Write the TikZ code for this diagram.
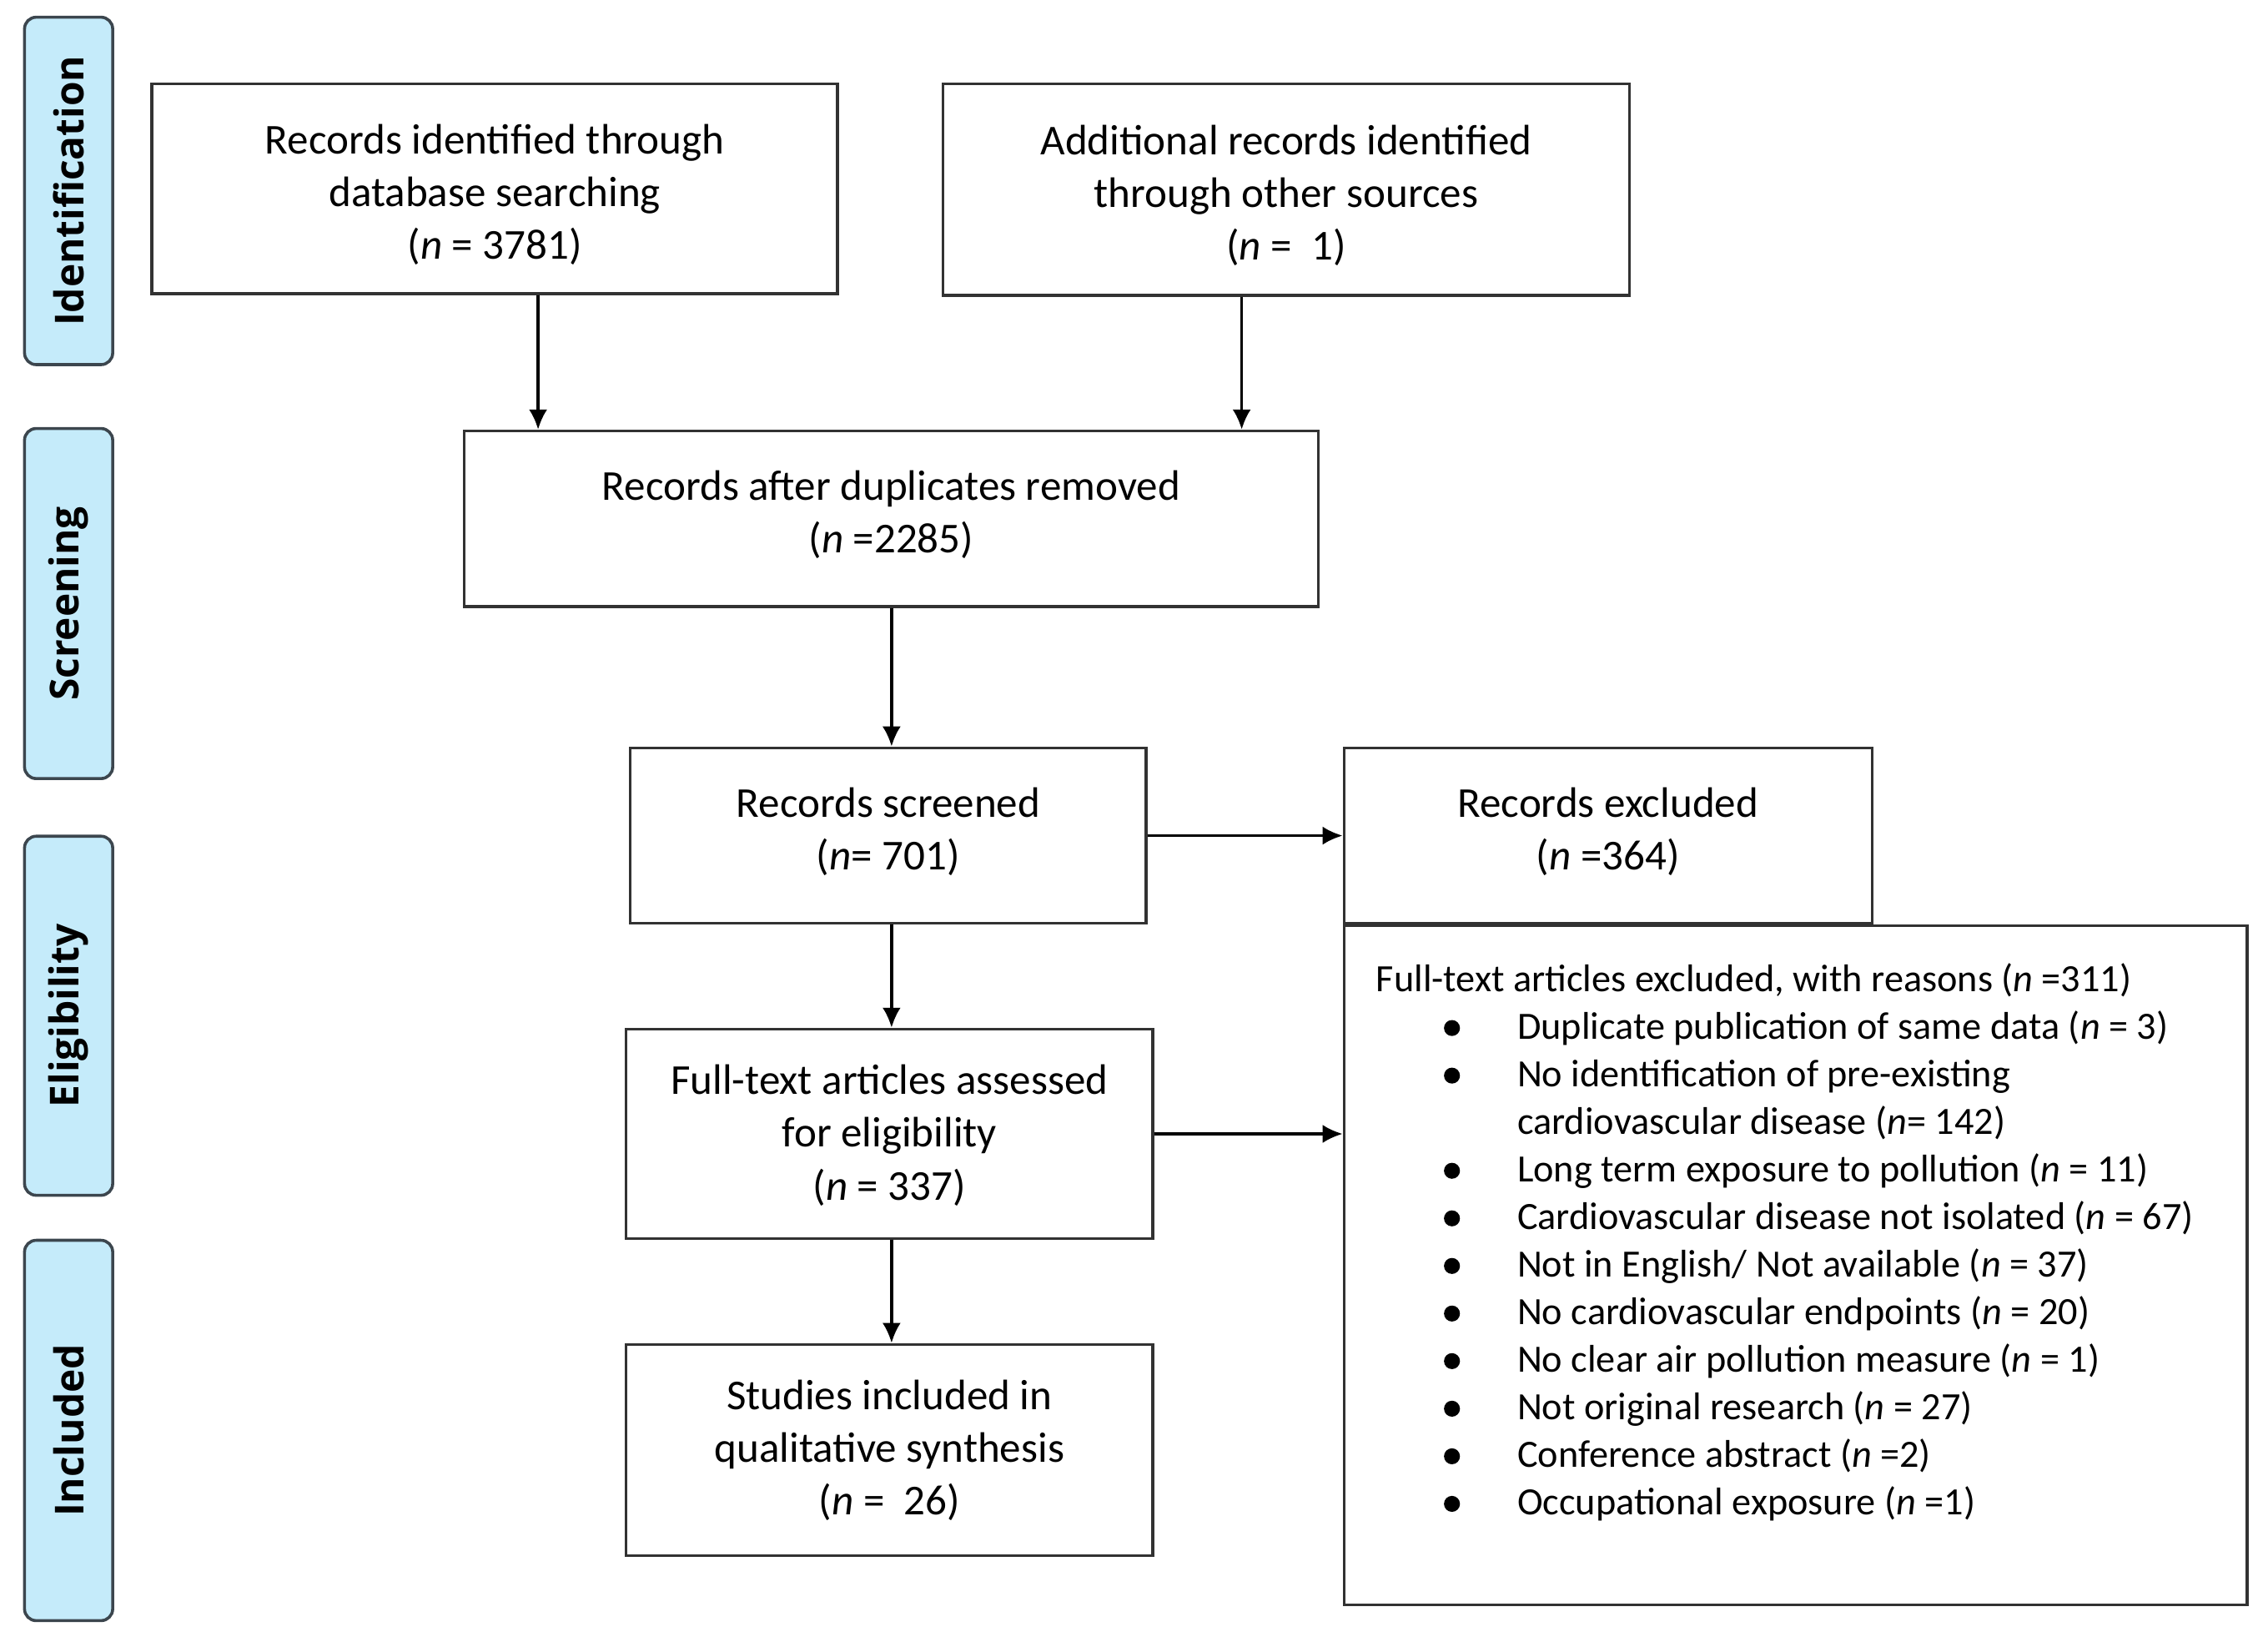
\documentclass[tikz,border=0pt]{standalone}
\usepackage{fontspec}
\setmainfont{Carlito}
\newfontfamily\tabfont{Open Sans}
\usetikzlibrary{arrows.meta}
\definecolor{tabfill}{RGB}{197,235,250}
\definecolor{tabline}{RGB}{60,70,78}
\definecolor{boxline}{RGB}{50,50,50}
\newcommand{\bigdot}{\tikz[baseline=0pt]\fill[black] (0pt,3.3pt) circle[radius=2.4pt];}
\newcommand{\bitem}[1]{\makebox[42.4pt][l]{\hspace*{22.75pt}\makebox[0pt][c]{\bigdot}}#1}
\begin{document}
\begin{tikzpicture}[x=0.25pt,y=-0.25pt,
  stage/.style={draw=tabline,line width=0.9pt,fill=tabfill,rounded corners=3.5pt,
    minimum width=26.5pt,inner sep=0pt},
  stagetext/.style={font=\tabfont\bfseries\fontsize{12}{14}\selectfont,rotate=90,inner sep=0pt},
  box/.style={draw=boxline,line width=0.85pt,fill=white,inner sep=0pt},
  boxtext/.style={inner sep=0pt,align=center,font=\fontsize{12.8}{15.8}\selectfont},
  arr/.style={line width=0.85pt,-{Latex[length=6pt,width=5.5pt]}}]
\useasboundingbox (0,0) rectangle (2727,1979);
% stage tabs
\node[stage,minimum height=104.4pt] (t1) at (82.5,229.5) {};
\node[stagetext] (t1t) at (t1.center) {Identification};
\node[stage,minimum height=105.2pt] (t2) at (82.5,725.5) {};
\node[stagetext] (t2t) at (t2.center) {Screening};
\node[stage,minimum height=107.9pt] (t3) at (82.5,1221) {};
\node[stagetext] (t3t) at (t3.center) {Eligibility};
\node[stage,minimum height=114.3pt] (t4) at (82.5,1719.5) {};
\node[stagetext] (t4t) at (t4.center) {Included};
% boxes
\node[box,minimum width=206.1pt,minimum height=63pt] (b1) at (594.9,227) {};
\node[boxtext] (b1t) at ([yshift=-1.8pt]b1.center)
  {Records identified through\\database searching\\(\textit{n} = 3781)};
\node[box,minimum width=206.25pt,minimum height=63.5pt] (b2) at (1546.5,228) {};
\node[boxtext] (b2t) at ([yshift=-1.8pt]b2.center)
  {Additional records identified\\through other sources\\(\textit{n} =\ \ 1)};
\node[box,minimum width=256.75pt,minimum height=52.75pt] (b3) at (1071.5,623.5) {};
\node[boxtext] (b3t) at ([yshift=1.1pt]b3.center)
  {Records after duplicates removed\\(\textit{n} =2285)};
\node[box,minimum width=155pt,minimum height=52.75pt] (b4) at (1068,1004.5) {};
\node[boxtext] (b4t) at ([yshift=1.2pt]b4.center)
  {Records screened\\(\textit{n}= 701)};
\node[box,minimum width=158.75pt,minimum height=52.75pt] (b5) at (1933.5,1004.5) {};
\node[boxtext] (b5t) at ([yshift=1.2pt]b5.center)
  {Records excluded\\(\textit{n} =364)};
\node[box,minimum width=158.25pt,minimum height=63pt] (b6) at (1069.5,1363) {};
\node[boxtext] (b6t) at ([yshift=-0.45pt]b6.center)
  {Full-text articles assessed\\for eligibility\\(\textit{n} = 337)};
\node[box,minimum width=271.5pt,minimum height=204pt] (b7) at (2159,1521) {};
\node[box,minimum width=158.25pt,minimum height=63.5pt] (b8) at (1069.5,1743) {};
\node[boxtext] (b8t) at (b8.center)
  {Studies included in\\qualitative synthesis\\(\textit{n} =\ \ 26)};
\node[anchor=north west,inner sep=0pt,align=left,font=\fontsize{11.6}{14.3}\selectfont] (reasons)
  at (1654,1157)
  {Full-text articles excluded, with reasons (\textit{n} =311)\\
   \bitem{Duplicate publication of same data (\textit{n} = 3)}\\
   \bitem{No identification of pre-existing}\\
   \hspace*{42.4pt}cardiovascular disease (\textit{n}= 142)\\
   \bitem{Long term exposure to pollution (\textit{n} = 11)}\\
   \bitem{Cardiovascular disease not isolated (\textit{n} = 67)}\\
   \bitem{Not in English/ Not available (\textit{n} = 37)}\\
   \bitem{No cardiovascular endpoints (\textit{n} = 20)}\\
   \bitem{No clear air pollution measure (\textit{n} = 1)}\\
   \bitem{Not original research (\textit{n} = 27)}\\
   \bitem{Conference abstract (\textit{n} =2)}\\
   \bitem{Occupational exposure (\textit{n} =1)}};
% connectors
\coordinate (c1) at (647,0);
\coordinate (c2) at (1493,0);
\coordinate (c3) at (1072,0);
\draw[arr] (c1 |- b1.south) -- (c1 |- b3.north);
\draw[arr] (c2 |- b2.south) -- (c2 |- b3.north);
\draw[arr] (c3 |- b3.south) -- (c3 |- b4.north);
\draw[arr] (b4.east) -- (b5.west);
\draw[arr] (c3 |- b4.south) -- (c3 |- b6.north);
\draw[arr] (b6.east) -- (b7.west |- b6.east);
\draw[arr] (c3 |- b6.south) -- (c3 |- b8.north);
\end{tikzpicture}
\end{document}
